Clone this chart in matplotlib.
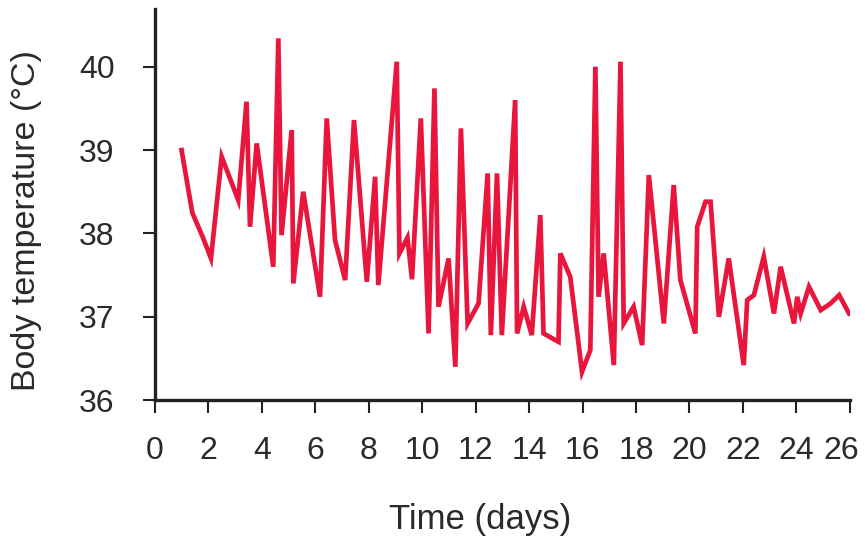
import matplotlib
matplotlib.use("Agg")
import matplotlib.pyplot as plt
import matplotlib.transforms as mtransforms

# readings picked off the chart
days = [1.0, 1.4, 1.8, 2.1, 2.5, 3.12, 3.43, 3.56, 3.81, 4.43, 4.62, 4.74, 5.12, 5.18,
        5.55, 6.18, 6.43, 6.74, 7.12, 7.45, 7.93, 8.24, 8.36, 9.05, 9.15, 9.45, 9.62,
        9.95, 10.24, 10.46, 10.61, 10.99, 11.24, 11.45, 11.7, 12.11, 12.45, 12.57, 12.8,
        12.98, 13.48, 13.55, 13.8, 14.1, 14.42, 14.54, 15.1, 15.17, 15.54, 15.98, 16.29,
        16.48, 16.6, 16.79, 17.17, 17.42, 17.54, 17.91, 18.23, 18.48, 19.04, 19.41,
        19.66, 20.22, 20.29, 20.6, 20.79, 21.1, 21.47, 22.03, 22.16, 22.41, 22.78,
        23.16, 23.41, 23.91, 24.03, 24.16, 24.47, 24.91, 25.28, 25.6, 25.97]
temps = [39.0, 38.25, 37.95, 37.7, 38.92, 38.4, 39.58, 38.08, 39.08, 37.6, 40.34, 37.98,
         39.24, 37.4, 38.5, 37.24, 39.38, 37.92, 37.44, 39.36, 37.42, 38.68, 37.38, 40.06,
         37.76, 37.95, 37.45, 39.38, 36.8, 39.74, 37.12, 37.7, 36.4, 39.26, 36.92, 37.16,
         38.72, 36.78, 38.72, 36.78, 39.6, 36.8, 37.12, 36.78, 38.22, 36.8, 36.7, 37.76,
         37.48, 36.34, 36.6, 40.0, 37.24, 37.76, 36.42, 40.06, 36.92, 37.12, 36.66, 38.7,
         36.92, 38.58, 37.44, 36.8, 38.08, 38.38, 38.38, 37.0, 37.7, 36.42, 37.2, 37.26,
         37.72, 37.04, 37.6, 36.92, 37.24, 37.04, 37.36, 37.08, 37.16, 37.26, 37.04]

x_ticks = list(range(0, 27, 2))
y_ticks = [36, 37, 38, 39, 40]

plt.rcParams['font.family'] = ['Liberation Sans', 'DejaVu Sans']

fig = plt.figure(figsize=(8.65, 5.4), dpi=100)
ax = fig.add_axes([0.179, 0.259, 0.8035, 0.724])

ax.plot(days, temps, color='#e8163c', lw=3.4, solid_joinstyle='miter', zorder=3)

ax.set_xlim(0, 26)
ax.set_ylim(36, 40.69)
ax.set_xticks(x_ticks)
ax.set_yticks(y_ticks)

for s in ['top', 'right']:
    ax.spines[s].set_visible(False)
for s in ['left', 'bottom']:
    ax.spines[s].set_linewidth(2.4)
    ax.spines[s].set_color('#222222')

ax.tick_params(axis='both', length=9, width=1.5, color='#222222',
               labelsize=23, labelcolor='#2a2a2a')
ax.tick_params(axis='y', pad=20)
ax.tick_params(axis='x', pad=17)

# last label sits a bit left so it stays inside the picture
last = ax.get_xticklabels()[-1]
last.set_transform(last.get_transform() +
                   mtransforms.ScaledTranslation(-0.09, 0, fig.dpi_scale_trans))

ax.set_xlabel('Time (days)', fontsize=25, color='#2a2a2a')
ax.xaxis.set_label_coords(0.468, -0.262)
ax.set_ylabel('Body temperature (°C)', fontsize=24.5, color='#2a2a2a')
ax.yaxis.set_label_coords(-0.162, 0.46)

fig.savefig('out.png', dpi=100)
